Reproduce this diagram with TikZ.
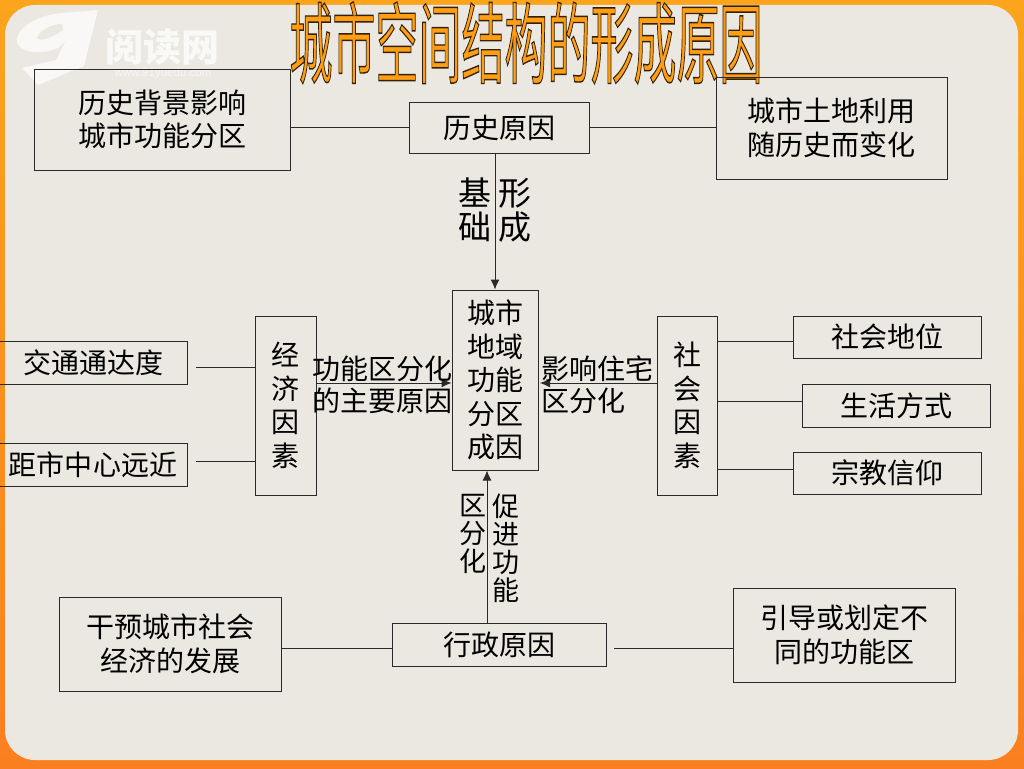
\documentclass[tikz,border=0pt]{standalone}
\usepackage{fontspec}
\usetikzlibrary{arrows.meta}
\setmainfont{Noto Sans CJK SC}
\newfontfamily\latinfont{Liberation Sans}
\begin{document}
\begin{tikzpicture}[x=1pt,y=-1pt]
	\tikzset{box/.style = {shape=rectangle,draw=boxline,line width=1pt,inner sep=0pt,align=center,text=black,font=\fontsize{28}{33.5}\selectfont},
		word/.style = {inner sep=0pt,align=center,text=black,font=\fontsize{28}{32}\selectfont},
		bigword/.style = {inner sep=0pt,align=center,text=black,font=\fontsize{33}{34}\selectfont},
		line/.style = {draw=boxline,line width=1pt},
		arrow/.style = {line, -{Latex[length=10pt,width=9pt]}}}
	\definecolor{boxline}{HTML}{2A2A2A}
	\definecolor{frametop}{HTML}{FBA41C}
	\definecolor{framebottom}{HTML}{FA7F20}
	\definecolor{paper}{HTML}{EBE8E1}
	\useasboundingbox (0,0) rectangle (1024,768);

	% background
	\shade[top color=frametop, bottom color=framebottom] (0,0) rectangle (1024,768);
	\fill[paper, rounded corners=30pt] (5,5) rectangle (1018,760);

	% logo
	\fill[white, opacity=0.7] (98,10) -- (62,13) .. controls (35,15) and (15,30) .. (17,42) .. controls (19,52) and (40,56) .. (58,48) -- (66,40) -- (56,60) -- (22,68) -- (38,85) -- (84,66) -- cycle;
	\fill[paper] (62,24) .. controls (50,24) and (38,32) .. (37,38) .. controls (40,42) and (52,38) .. (63,30) -- cycle;
	\node[inner sep=0pt, text=white, opacity=0.75, font=\fontsize{38}{38}\selectfont\bfseries] (logo_name) at (162,47) {阅读网};
	\node[inner sep=0pt, text=white, opacity=0.65, font=\fontsize{11.5}{12}\latinfont] (logo_site) at (163,74) {www.91yuedu.com};

	% title
	\node[inner sep=0pt, yscale=2.05, transform shape, font=\fontsize{43}{43}\selectfont] (title) at (526,43) {\special{pdf:code 1 0.62 0.08 rg 0.2 0.13 0.03 RG 2 Tr 0.7 w}城市空间结构的形成原因\special{pdf:code 0 Tr 0 g 0 G}};

	% boxes
	\node[box, minimum width=256pt, minimum height=101pt] (hist_left) at (162,119.5) {历史背景影响\\城市功能分区};
	\node[box, minimum width=180pt, minimum height=51pt] (hist) at (499,127.5) {历史原因};
	\node[box, minimum width=231pt, minimum height=102pt] (hist_right) at (831.5,128) {城市土地利用\\随历史而变化};
	\node[box, minimum width=86pt, minimum height=180pt] (center) at (495,380) {城市\\地域\\功能\\分区\\成因};
	\node[box, minimum width=61pt, minimum height=179pt] (econ) at (285.5,405.5) {经\\济\\因\\素};
	\node[box, minimum width=60pt, minimum height=179pt] (social) at (687,405.5) {社\\会\\因\\素};
	\node[box, minimum width=188pt, minimum height=43pt] (traffic) at (93,362.5) {交通通达度};
	\node[box, minimum width=188pt, minimum height=43pt] (distance) at (93,464.5) {距市中心远近};
	\node[box, minimum width=188pt, minimum height=42pt] (status) at (887,337) {社会地位};
	\node[box, minimum width=188pt, minimum height=43pt] (life) at (896,405.5) {生活方式};
	\node[box, minimum width=188pt, minimum height=42pt] (faith) at (887,473) {宗教信仰};
	\node[box, minimum width=214pt, minimum height=43pt] (admin) at (499,644.5) {行政原因};
	\node[box, minimum width=222pt, minimum height=94pt] (admin_left) at (170,644) {干预城市社会\\经济的发展};
	\node[box, minimum width=222pt, minimum height=94pt] (admin_right) at (844,635) {引导或划定不\\同的功能区};

	% free ends
	\coordinate (traffic_end) at (196,367);
	\coordinate (distance_end) at (196,461);
	\coordinate (admin_end) at (614,648);
	\coordinate (social_end) at (540,383);

	% connectors
	\draw[line] (hist_left.east |- hist.west) -- (hist.west);
	\draw[line] (hist.east) -- (hist_right.west |- hist.east);
	\draw[arrow] (center.north |- hist.south) -- (center.north);
	\draw[line] (traffic_end) -- (traffic_end -| econ.west);
	\draw[line] (distance_end) -- (distance_end -| econ.west);
	\draw[arrow] (econ.east |- social_end) -- (center.west |- social_end);
	\draw[arrow] (social.west |- social_end) -- (social_end);
	\draw[line] (social.east |- 0,341) -- (status.west |- 0,341);
	\draw[line] (social.east |- 0,401) -- (life.west |- 0,401);
	\draw[line] (social.east |- 0,469) -- (faith.west |- 0,469);
	\draw[arrow] (487,0 |- admin.north) -- (487,0 |- center.south);
	\draw[line] (admin_left.east |- admin_end) -- (admin.west |- admin_end);
	\draw[line] (admin_end) -- (admin_right.west |- admin_end);

	% labels
	\node[bigword] (label_base) at (475,210) {基\\础};
	\node[bigword] (label_form) at (515,210) {形\\成};
	\node[word] (label_econ) at (382,385) {功能区分化\\的主要原因};
	\node[word, align=left] (label_social) at (597,385) {影响住宅\\区分化};
	\node[word, font=\fontsize{27}{28}\selectfont] (label_div) at (473,534) {区\\分\\化};
	\node[word, font=\fontsize{27}{28}\selectfont] (label_promote) at (506,548) {促\\进\\功\\能};
\end{tikzpicture}
\end{document}
